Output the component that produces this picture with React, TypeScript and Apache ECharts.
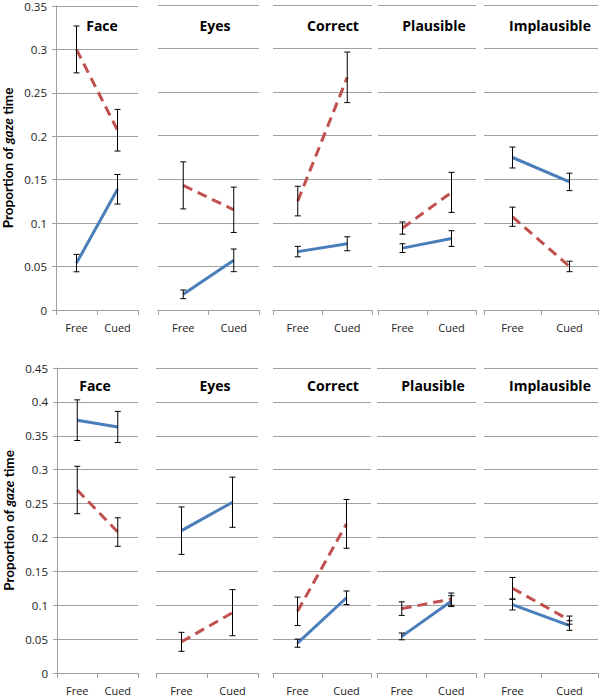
import React, { useEffect, useRef } from "react";
import * as echarts from "echarts";

const panels = ["Face", "Eyes", "Correct", "Plausible", "Implausible"];
const conditions = ["Free", "Cued"];

// Top row (means and error half-widths), per panel [Free, Cued]
const topBlueMean = [[0.054, 0.139], [0.018, 0.057], [0.067, 0.076], [0.071, 0.082], [0.175, 0.147]];
const topBlueErr = [[0.010, 0.017], [0.005, 0.013], [0.006, 0.008], [0.005, 0.009], [0.012, 0.010]];
const topRedMean = [[0.300, 0.207], [0.143, 0.115], [0.125, 0.267], [0.094, 0.135], [0.107, 0.050]];
const topRedErr = [[0.027, 0.024], [0.027, 0.026], [0.017, 0.029], [0.007, 0.023], [0.011, 0.006]];

// Bottom row
const botBlueMean = [[0.373, 0.363], [0.210, 0.252], [0.044, 0.111], [0.054, 0.106], [0.101, 0.070]];
const botBlueErr = [[0.030, 0.023], [0.035, 0.037], [0.006, 0.010], [0.005, 0.008], [0.008, 0.007]];
const botRedMean = [[0.270, 0.208], [0.046, 0.089], [0.091, 0.220], [0.095, 0.109], [0.125, 0.078]];
const botRedErr = [[0.035, 0.021], [0.014, 0.034], [0.021, 0.036], [0.010, 0.009], [0.016, 0.006]];

const topMax = 0.35;
const botMax = 0.45;
const yInterval = 0.05;

const FONT = "'Open Sans', sans-serif";
const TFONT = "Lato, 'Open Sans', sans-serif";
const BLUE = "#4a7ebb";
const RED = "#c0504d";
const GRID_C = "#a0a0a0";

const App: React.FC = () => {
  const ref = useRef<HTMLDivElement>(null);
  useEffect(() => {
    if (!ref.current) return;
    const chart = echarts.init(ref.current, null, { renderer: "svg" });

    const rows = [
      { top: 5, height: 305, max: topMax, lefts: [56, 158, 273, 378, 484], rights: [138, 259, 372, 476, 598], blueM: topBlueMean, blueE: topBlueErr, redM: topRedMean, redE: topRedErr, titleY: 25, titleX: [102, 215, 333, 434, 550] },
      { top: 368, height: 305, max: botMax, lefts: [57, 156, 273, 377, 484], rights: [138, 258, 371, 476, 598], blueM: botBlueMean, blueE: botBlueErr, redM: botRedMean, redE: botRedErr, titleY: 385, titleX: [95, 215, 333, 433, 550] },
    ];

    const grid: any[] = [];
    const xAxis: any[] = [];
    const yAxis: any[] = [];
    const series: any[] = [];
    const graphic: any[] = [];

    const errRender = (params: any, api: any) => {
      const x = api.value(0);
      const m = api.value(1);
      const e = api.value(2);
      const p1 = api.coord([x, m + e]);
      const p2 = api.coord([x, m - e]);
      const cap = 3;
      const st = { stroke: "#000", lineWidth: 1 };
      return {
        type: "group",
        children: [
          { type: "line", shape: { x1: p1[0], y1: p1[1], x2: p2[0], y2: p2[1] }, style: st },
          { type: "line", shape: { x1: p1[0] - cap, y1: p1[1], x2: p1[0] + cap, y2: p1[1] }, style: st },
          { type: "line", shape: { x1: p2[0] - cap, y1: p2[1], x2: p2[0] + cap, y2: p2[1] }, style: st },
        ],
      };
    };

    rows.forEach((row) => {
      panels.forEach((name, p) => {
        const idx = grid.length;
        grid.push({ left: row.lefts[p], width: row.rights[p] - row.lefts[p], top: row.top, height: row.height, containLabel: false });
        xAxis.push({
          type: "category",
          gridIndex: idx,
          data: conditions,
          boundaryGap: true,
          axisLine: { show: true, lineStyle: { color: GRID_C, width: 1 } },
          axisTick: { show: true, length: 5, inside: false, lineStyle: { color: GRID_C } },
          axisLabel: { color: "#222", fontSize: 11, fontFamily: FONT, margin: 12 },
          splitLine: { show: false },
        });
        yAxis.push({
          type: "value",
          gridIndex: idx,
          min: 0,
          max: row.max,
          interval: yInterval,
          axisLine: { show: p === 0, lineStyle: { color: GRID_C, width: 1 } },
          axisTick: { show: p === 0, length: 4, lineStyle: { color: GRID_C } },
          axisLabel: { show: p === 0, color: "#222", fontSize: 11.5, fontFamily: FONT, margin: 9 },
          splitLine: { show: true, lineStyle: { color: GRID_C, width: 1 } },
          name: p === 0 ? "{b|Proportion of }{i|gaze}{b| time}" : "",
          nameLocation: "middle",
          nameRotate: 90,
          nameGap: 41,
          nameTextStyle: {
            rich: {
              b: { fontFamily: TFONT, fontWeight: "bold", fontSize: 13.5, color: "#000" },
              i: { fontFamily: TFONT, fontWeight: "bold", fontStyle: "italic", fontSize: 13.5, color: "#000" },
            },
          },
        });
        series.push({
          type: "line",
          xAxisIndex: idx,
          yAxisIndex: idx,
          data: row.blueM[p],
          showSymbol: false,
          symbol: "none",
          lineStyle: { color: BLUE, width: 3 },
          z: 3,
        });
        series.push({
          type: "line",
          xAxisIndex: idx,
          yAxisIndex: idx,
          data: row.redM[p],
          showSymbol: false,
          symbol: "none",
          lineStyle: { color: RED, width: 3, type: [10, 6] },
          z: 3,
        });
        const errData: number[][] = [];
        [0, 1].forEach((c) => {
          errData.push([c, row.blueM[p][c], row.blueE[p][c]]);
          errData.push([c, row.redM[p][c], row.redE[p][c]]);
        });
        series.push({
          type: "custom",
          xAxisIndex: idx,
          yAxisIndex: idx,
          data: errData,
          encode: { x: 0, y: 1 },
          renderItem: errRender,
          z: 4,
        });
        graphic.push({
          type: "text",
          x: row.titleX[p],
          y: row.titleY,
          style: {
            text: name,
            fill: "#000",
            font: `bold 14px ${FONT}`,
            textAlign: "center",
            textVerticalAlign: "middle",
          },
          z: 10,
        });
      });
    });

    chart.setOption({
      animation: false,
      backgroundColor: "#fff",
      grid,
      xAxis,
      yAxis,
      series,
      graphic,
    });
    return () => chart.dispose();
  }, []);

  return (
    <div
      ref={ref}
      style={{ position: "absolute", left: 0, top: 0, width: 600, height: 698 }}
    />
  );
};

export default App;
